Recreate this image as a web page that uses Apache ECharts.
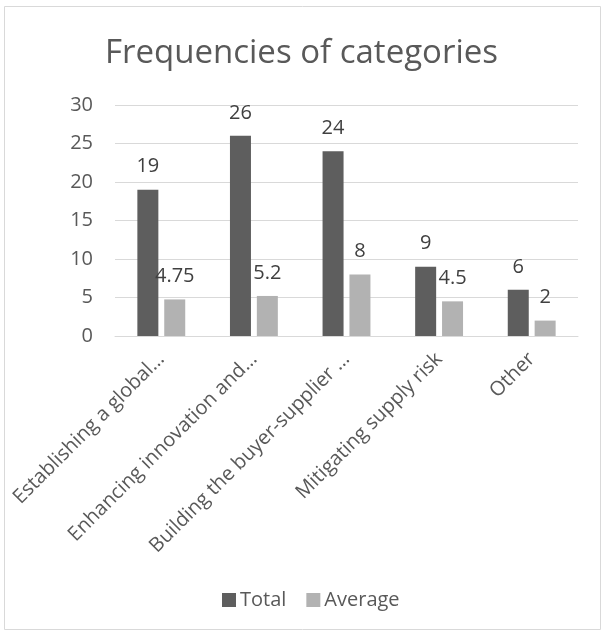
<!DOCTYPE html>
<html><head><meta charset="utf-8">
<script src="https://cdn.jsdelivr.net/npm/echarts@6/dist/echarts.min.js"></script>
<style>html,body{margin:0;padding:0;background:#fff}#c{width:603px;height:632px}</style>
</head><body><div id="c"></div>
<script>
const categories = ["Establishing a global…", "Enhancing innovation and…", "Building the buyer-supplier …", "Mitigating supply risk", "Other"];
const totalValues = [19, 26, 24, 9, 6];
const averageValues = [4.75, 5.2, 8, 4.5, 2];
const yTicks = [0, 5, 10, 15, 20, 25, 30];
const font = "Open Sans";
const chart = echarts.init(document.getElementById('c'));
chart.setOption({
  animation: false,
  textStyle: { fontFamily: font },
  graphic: [{ type: 'rect', shape: { x: 4.5, y: 6.5, width: 596, height: 623 }, style: { fill: 'none', stroke: '#d9d9d9', lineWidth: 1 } }],
  title: { text: 'Frequencies of categories', left: 'center', top: 32, textStyle: { fontFamily: font, fontSize: 33, fontWeight: 'normal', color: '#595959' } },
  legend: { top: 585, left: 217, itemWidth: 14, itemHeight: 14, itemGap: 20, icon: 'rect', textStyle: { fontFamily: font, fontSize: 20, color: '#595959', padding: [0,0,0,-1] }, data: ['Total', 'Average'] },
  grid: { left: 115, right: 25, top: 105, bottom: 296, containLabel: false },
  xAxis: { type: 'category', data: categories, axisTick: { show: false }, axisLine: { lineStyle: { color: '#d9d9d9' } },
    axisLabel: { rotate: 45, interval: 0, fontSize: 20, color: '#595959', margin: 20, fontFamily: font } },
  yAxis: { type: 'value', min: yTicks[0], max: yTicks[yTicks.length-1], interval: 5, axisLine: { show: false }, axisTick: { show: false },
    splitLine: { lineStyle: { color: '#d9d9d9' } }, axisLabel: { fontSize: 20, color: '#595959', margin: 22, fontFamily: font } },
  series: [
    { name: 'Total', type: 'bar', data: totalValues, barWidth: 21, barGap: '28%', itemStyle: { color: '#5e5e5e' },
      label: { show: true, position: 'top', fontSize: 20, color: '#404040', distance: 13, fontFamily: font } },
    { name: 'Average', type: 'bar', data: averageValues, barWidth: 21, itemStyle: { color: '#b2b2b2' },
      label: { show: true, position: 'top', fontSize: 20, color: '#404040', distance: 13, fontFamily: font } }
  ]
});
</script></body></html>
